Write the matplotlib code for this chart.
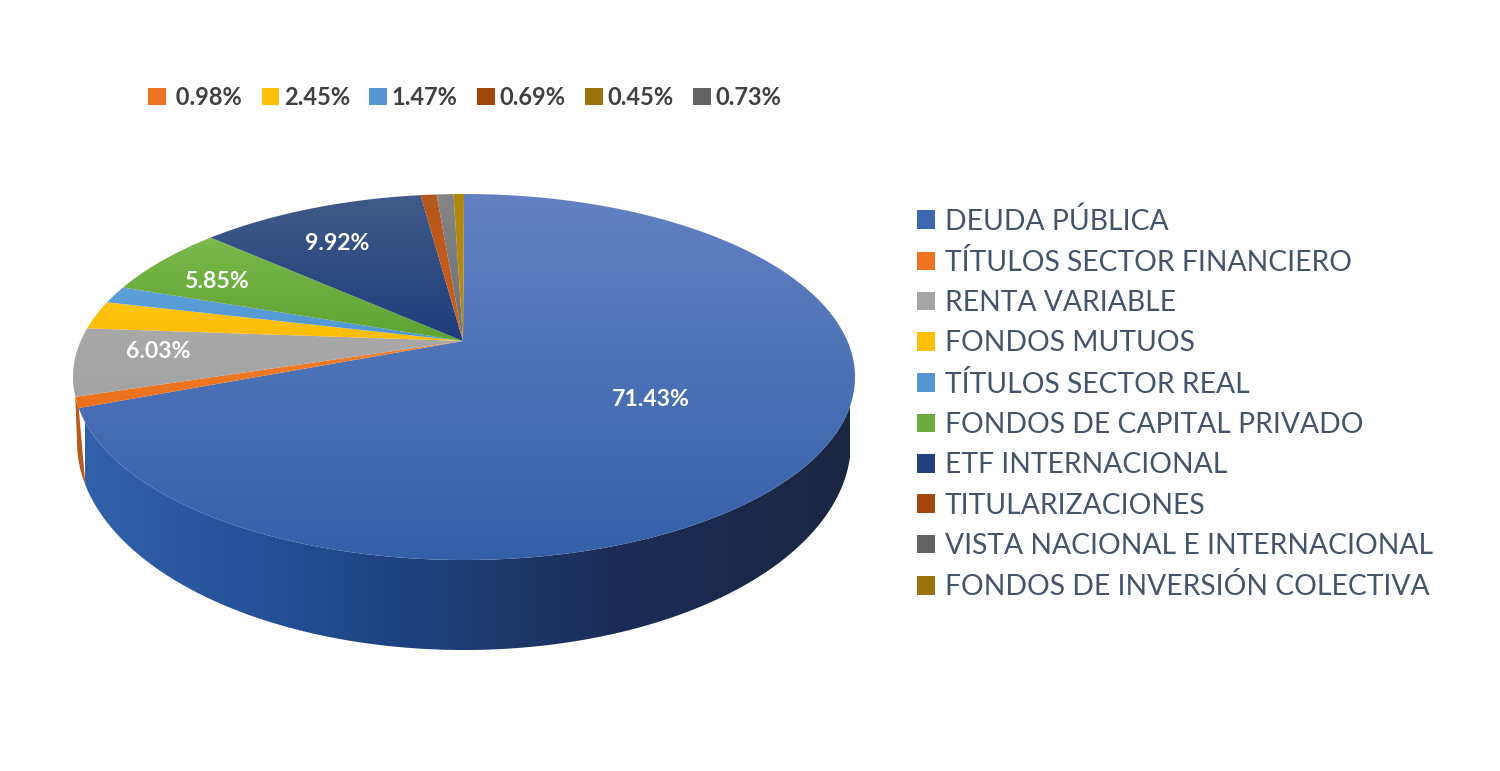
import numpy as np
import matplotlib
matplotlib.use("Agg")
import matplotlib.pyplot as plt
from matplotlib.patches import Polygon, Patch
from matplotlib.colors import LinearSegmentedColormap

# ---- data ----
categories = ["DEUDA PÚBLICA", "TÍTULOS SECTOR FINANCIERO", "RENTA VARIABLE", "FONDOS MUTUOS",
              "TÍTULOS SECTOR REAL", "FONDOS DE CAPITAL PRIVADO", "ETF INTERNACIONAL",
              "TITULARIZACIONES", "VISTA NACIONAL E INTERNACIONAL", "FONDOS DE INVERSIÓN COLECTIVA"]
values = [71.43, 0.98, 6.03, 2.45, 1.47, 5.85, 9.92, 0.69, 0.73, 0.45]
legend_colors = ["#3f67b0", "#ed7423", "#a5a5a5", "#fdc008", "#5596d3",
                 "#6aab3e", "#23407c", "#a3470f", "#636363", "#9c720c"]
face_top = ["#6381c2", "#f08030", "#a9a9a9", "#ffc514", "#5f9fd8",
            "#7cb84c", "#415b88", "#b5561c", "#858585", "#b0860f"]
face_bottom = ["#3560a8", "#ec701c", "#a3a3a3", "#fcbc00", "#4f97d4",
               "#5da332", "#1d3c7c", "#d0601c", "#707070", "#b88a10"]
side_stops = [(0.0, "#3261ab"), (0.25, "#234f95"), (0.45, "#1d3f7a"), (0.7, "#1b2d56"), (1.0, "#1a2642")]
top_labels = [" 0.98%", "2.45%", "1.47%", "0.69%", "0.45%", "0.73%"]
top_label_colors = ["#ed7423", "#fdc008", "#5596d3", "#a3470f", "#9c720c", "#636363"]
inside_labels = ["71.43%", "6.03%", "5.85%", "9.92%"]
inside_label_xy = [(651, 399), (158, 352), (217, 281), (337, 243)]

# ---- geometry of the drawn 3-D pie (pixels) ----
W, H = 1500, 771
cx, top_y, bot_y, ax_a = 464, 194, 560, 391
ex, ey = 463, 341          # apex of the slices
mid = 367                  # projected centre used for the rim
up, dn = mid - top_y, bot_y - mid
k = (dn - up) / (dn + up)
b = up * (1 + k)
a = ax_a * np.sqrt(1 - k * k)
depth_cy, depth_a, depth_b = 442, 387, 208


def rim(theta):
    X, Y = np.sin(theta), np.cos(theta)
    return cx + a * X / (1 + k * Y), mid - b * Y / (1 + k * Y)


def lower(theta):
    return cx + depth_a * np.sin(theta), depth_cy - depth_b * np.cos(theta)


plt.rcParams["font.family"] = ["Lato", "DejaVu Sans"]
fig = plt.figure(figsize=(15, 7.71), dpi=100, facecolor="white")
ax = fig.add_axes([0, 0, 1, 1])
ax.set_xlim(0, W)
ax.set_ylim(H, 0)
ax.axis("off")


def gradient_fill(poly, cmap, horizontal=False, span=(0, 1)):
    ax.add_patch(poly)
    g = np.linspace(0, 1, 256)
    arr = g[None, :] if horizontal else g[:, None]
    ext = (span[0], span[1], H, 0) if horizontal else (0, W, span[1], span[0])
    im = ax.imshow(arr, cmap=cmap, extent=ext, aspect="auto", zorder=poly.get_zorder(), vmin=0, vmax=1)
    im.set_clip_path(poly)
    ax.set_xlim(0, W)
    ax.set_ylim(H, 0)


edges = np.radians(np.concatenate([[0], np.cumsum(values)]) * 3.6)
wall_end = np.radians(258)

# side wall: orange sliver then the long blue wall
t = np.linspace(edges[1], edges[2], 30)
ox, oy = rim(t)
t2 = np.linspace(wall_end, np.radians(270), 30)
lx, ly = lower(t2)
ax.add_patch(Polygon(np.c_[np.r_[ox, lx[::-1]], np.r_[oy, ly[::-1]]], fc="#b85a1c", ec="none", zorder=1))

t = np.linspace(np.radians(97), edges[1], 400)
rx, ry = rim(t)
t2 = np.linspace(np.radians(90), wall_end, 400)
lx, ly = lower(t2)
wall = Polygon(np.c_[np.r_[rx, lx[::-1]], np.r_[ry, ly[::-1]]], fc="none", ec="none", zorder=2)
gradient_fill(wall, LinearSegmentedColormap.from_list("side", side_stops), horizontal=True, span=(85, 850))

# top face
for i in range(len(values)):
    t = np.linspace(edges[i], edges[i + 1], max(3, int(values[i] * 12)))
    x, y = rim(t)
    poly = Polygon(np.c_[np.r_[ex, x], np.r_[ey, y]], fc="none", ec="none", zorder=3 + i * 0.01)
    cmap = LinearSegmentedColormap.from_list(f"s{i}", [face_top[i], face_bottom[i]])
    span = (min(y.min(), ey), max(y.max(), ey)) if i else (194, 560)
    gradient_fill(poly, cmap, span=span)

# labels on the slices
for s, (x, y) in zip(inside_labels, inside_label_xy):
    ax.text(x, y, s, color="white", fontsize=16.6, fontweight="bold", ha="center", va="center", zorder=6)

# series legend at right
handles = [Patch(fc=c, ec="none") for c in legend_colors]
ax.legend(handles, categories, loc="upper left", bbox_to_anchor=(917 / W, 1 - 207 / H), frameon=False,
          fontsize=20.3, labelcolor="#44546a", handlelength=0.64, handleheight=0.64, handletextpad=0.35,
          labelspacing=0.507, borderpad=0, borderaxespad=0)
first = ax.get_legend()
ax.add_artist(first)

# percentage legend on top
handles2 = [Patch(fc=c, ec="none") for c in top_label_colors]
ax.legend(handles2, top_labels, loc="upper left", bbox_to_anchor=(148 / W, 1 - 86 / H), frameon=False, ncol=6,
          prop={"size": 17, "weight": "bold"}, labelcolor="#404040", handlelength=0.76, handleheight=0.76,
          handletextpad=0.19, columnspacing=0.82, borderpad=0, borderaxespad=0)

fig.savefig("out.png", dpi=100, facecolor="white")
